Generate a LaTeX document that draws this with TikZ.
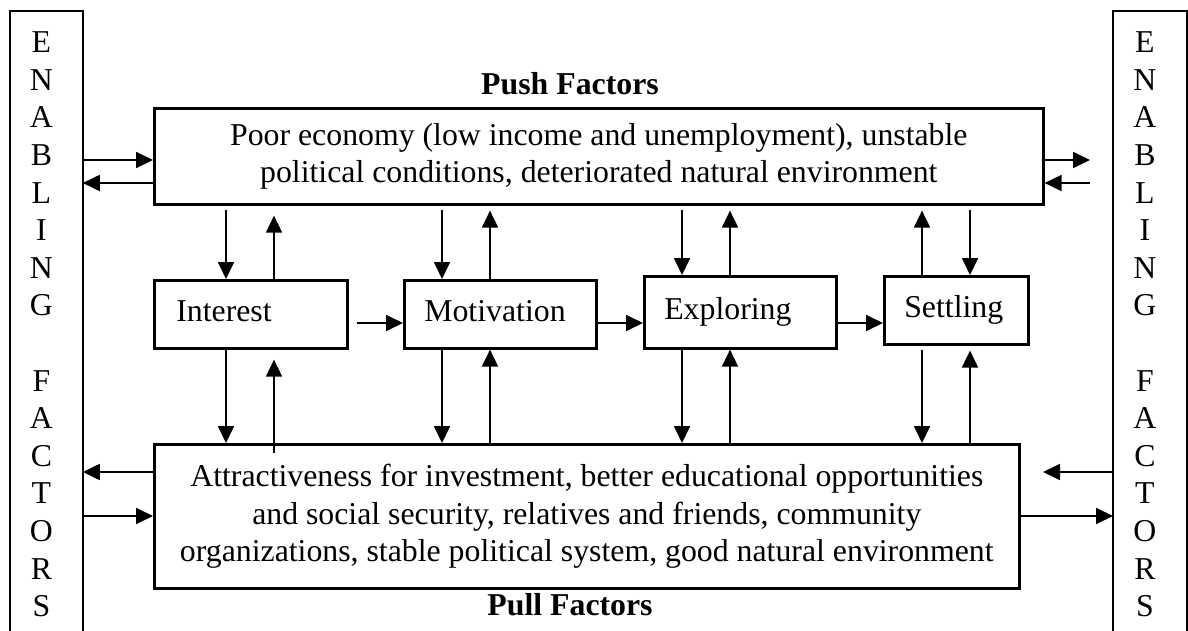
\documentclass[tikz,border=0pt]{standalone}
\usepackage{fontspec}
\setmainfont{Liberation Serif}
\usetikzlibrary{arrows.meta}
\newcommand\bodyfont{\fontsize{15.9}{18.8}\selectfont}

\begin{document}
\begin{tikzpicture}[x=0.5pt,y=-0.5pt,
  font=\bodyfont,
  boxline/.style={line width=1.3pt},
  frame/.style={draw, boxline, inner sep=0pt, anchor=north west},
  stage/.style={frame, text height=11pt, text depth=4pt, align=left},
  column/.style={inner sep=0pt, anchor=north west, minimum height=310pt},
  letters/.style={align=center, inner sep=0pt},
  title/.style={font=\bodyfont\bfseries, anchor=base, inner sep=0pt},
  arr/.style={line width=0.9pt, -{Triangle[length=8.5pt,width=8pt]}}
]
\useasboundingbox (0,0) rectangle (1188,631);

% side columns
\node[column, minimum width=36pt] (enl) at (10,11) {};
\node[column, minimum width=36.5pt] (enr) at (1113,11) {};
\draw[boxline] (enl.south west) -- (enl.north west) -- (enl.north east) -- (enl.south east);
\draw[boxline] (enr.south west) -- (enr.north west) -- (enr.north east) -- (enr.south east);
\node[letters] (enltext) at ([xshift=-2.5pt,yshift=-1.5pt]enl.center)
  {E\\N\\A\\B\\L\\I\\N\\G\\[18.8pt]F\\A\\C\\T\\O\\R\\S};
\node[letters] (enrtext) at ([xshift=-2.5pt,yshift=-1.5pt]enr.center)
  {E\\N\\A\\B\\L\\I\\N\\G\\[18.8pt]F\\A\\C\\T\\O\\R\\S};

% titles
\node[title] (pushtitle) at (570,95) {Push Factors};
\node[title] (pulltitle) at (570,615) {Pull Factors};

% push and pull boxes
\node[frame, minimum width=444.5pt, minimum height=48pt, align=center] (push) at (153,107)
  {Poor economy (low income and unemployment), unstable\\
   political conditions, deteriorated natural environment};
\node[frame, minimum width=432.5pt, minimum height=72pt, align=center] (pull) at (153,443)
  {Attractiveness for investment, better educational opportunities\\
   and social security, relatives and friends, community\\
   organizations, stable political system, good natural environment};

% stages
\node[stage, minimum height=34pt, inner xsep=11pt, text width=74.5pt] (int) at (153,279) {Interest};
\node[stage, minimum height=34pt, inner xsep=10pt, text width=76pt] (mot) at (403,279) {Motivation};
\node[stage, minimum height=36pt, inner xsep=10pt, text width=76pt] (exp) at (643,275) {Exploring};
\node[stage, minimum height=34pt, inner xsep=10pt, text width=52pt] (set) at (883,275) {Settling};

% links with the enabling factors
\coordinate (rt1) at (1090,160);
\coordinate (rt2) at (1090,183);
\coordinate (rb1) at (1043,472);
\draw[arr] (enl.east |- 0,160) -- (push.west |- 0,160);
\draw[arr] (push.west |- 0,183) -- (enl.east |- 0,183);
\draw[arr] (push.east |- rt1) -- (rt1);
\draw[arr] (rt2) -- (push.east |- rt2);
\draw[arr] (pull.west |- 0,472) -- (enl.east |- 0,472);
\draw[arr] (enl.east |- 0,516) -- (pull.west |- 0,516);
\draw[arr] (enr.west |- rb1) -- (rb1);
\draw[arr] (pull.east |- 0,516) -- (enr.west |- 0,516);

% stage sequence
\draw[arr, shorten <=4pt] (int.east |- 0,323) -- (mot.west |- 0,323);
\draw[arr] (mot.east |- 0,323) -- (exp.west |- 0,323);
\draw[arr] (exp.east |- 0,323) -- (set.west |- 0,323);

% interest
\draw[arr, shorten <=2pt] (push.south -| 226,0) -- (int.north -| 226,0);
\draw[arr, shorten >=5pt] (int.north -| 274,0) -- (push.south -| 274,0);
\draw[arr] (int.south -| 226,0) -- (pull.north -| 226,0);
\draw[arr, shorten <=-5pt, shorten >=5pt] (pull.north -| 274,0) -- (int.south -| 274,0);

% motivation
\draw[arr, shorten <=2pt] (push.south -| 442,0) -- (mot.north -| 442,0);
\draw[arr, shorten >=2.5pt] (mot.north -| 490,0) -- (push.south -| 490,0);
\draw[arr] (mot.south -| 442,0) -- (pull.north -| 442,0);
\draw[arr] (pull.north -| 490,0) -- (mot.south -| 490,0);

% exploring
\draw[arr, shorten <=2pt] (push.south -| 682,0) -- (exp.north -| 682,0);
\draw[arr, shorten >=2.5pt] (exp.north -| 730,0) -- (push.south -| 730,0);
\draw[arr] (exp.south -| 682,0) -- (pull.north -| 682,0);
\draw[arr] (pull.north -| 730,0) -- (exp.south -| 730,0);

% settling
\draw[arr, shorten >=2.5pt] (set.north -| 922,0) -- (push.south -| 922,0);
\draw[arr, shorten <=2pt] (push.south -| 970,0) -- (set.north -| 970,0);
\draw[arr, shorten <=2pt] (set.south -| 922,0) -- (pull.north -| 922,0);
\draw[arr, shorten >=2.5pt] (pull.north -| 970,0) -- (set.south -| 970,0);
\end{tikzpicture}
\end{document}
